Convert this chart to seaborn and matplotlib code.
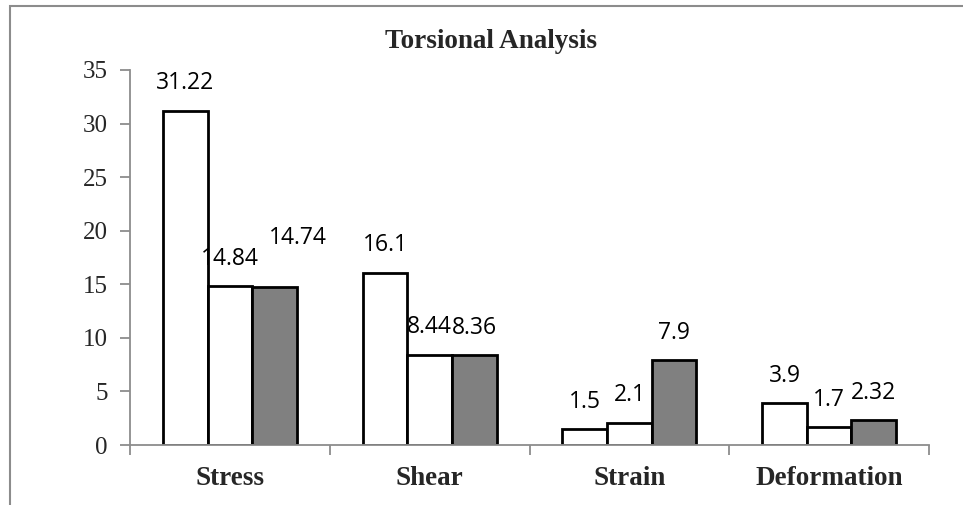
import matplotlib
matplotlib.use("Agg")
import matplotlib.pyplot as plt
import numpy as np
import pandas as pd
import seaborn as sns
from matplotlib.patches import Rectangle
from matplotlib.ticker import FixedLocator

categories = ["Stress", "Shear", "Strain", "Deformation"]
series = ["A", "B", "C"]
values_a = [31.22, 16.1, 1.5, 3.9]
values_b = [14.84, 8.44, 2.1, 1.7]
values_c = [14.74, 8.36, 7.9, 2.32]
yticks = [0, 5, 10, 15, 20, 25, 30, 35]
title = "Torsional Analysis"

df = pd.DataFrame({
    "category": categories * 3,
    "series": np.repeat(series, len(categories)),
    "value": values_a + values_b + values_c,
})

sns.set_theme(style="white")
SERIF = ["Liberation Serif", "DejaVu Serif"]
SANS = ["Open Sans", "DejaVu Sans"]

fig = plt.figure(figsize=(9.63, 5.05), dpi=100)
ax = fig.add_axes([130 / 963, 1 - 445 / 505, 799 / 963, 375 / 505])

# outer chart-area frame (only left and top edges fall inside the image)
fig.patches.append(Rectangle((10 / 963, -0.1), 1.2, 1 - 6 / 505 + 0.1,
                             transform=fig.transFigure, fill=False,
                             edgecolor="#8c8c8c", lw=1.5))

sns.barplot(data=df, x="category", y="value", hue="series", order=categories,
            hue_order=series, palette=["white", "white", "#808080"],
            width=0.67, gap=0, edgecolor="black", linewidth=2.0,
            legend=False, ax=ax)

ax.set_xlim(-0.5, 3.5)
ax.set_ylim(0, 35)
ax.set_yticks(yticks)
ax.set_yticklabels([str(t) for t in yticks], fontfamily=SERIF, fontsize=18)
ax.set_xticks(range(len(categories)))
ax.set_xticklabels(categories, fontfamily=SERIF, fontsize=19.5, fontweight="bold")
ax.xaxis.set_minor_locator(FixedLocator(np.arange(-0.5, 4, 1)))
ax.tick_params(axis="x", which="major", length=0, pad=15)
ax.tick_params(axis="x", which="minor", length=7, width=1.3, color="#8c8c8c", bottom=True)
ax.tick_params(axis="y", length=7, width=1.3, color="#8c8c8c", left=True, pad=9)
ax.set_xlabel("")
ax.set_ylabel("")
for side in ("top", "right"):
    ax.spines[side].set_visible(False)
for side in ("left", "bottom"):
    ax.spines[side].set_color("#8c8c8c")
    ax.spines[side].set_linewidth(1.3)

# data labels, nudged like the original
label_offsets = {(0, 2): (17, 35)}
for i, cont in enumerate(ax.containers):
    for j, bar in enumerate(cont):
        v = bar.get_height()
        dx, dy = label_offsets.get((j, i), (0, 19.5))
        ax.annotate(f"{v:g}", (bar.get_x() + bar.get_width() / 2, v),
                    xytext=(dx, dy), textcoords="offset points",
                    ha="center", va="center", fontsize=16.5, fontfamily=SANS,
                    color="black", annotation_clip=False)

fig.text(491 / 963, 1 - 42 / 505, title, ha="center", va="center",
         fontsize=19.5, fontweight="bold", fontfamily=SERIF)

fig.savefig("out.png", dpi=100)
